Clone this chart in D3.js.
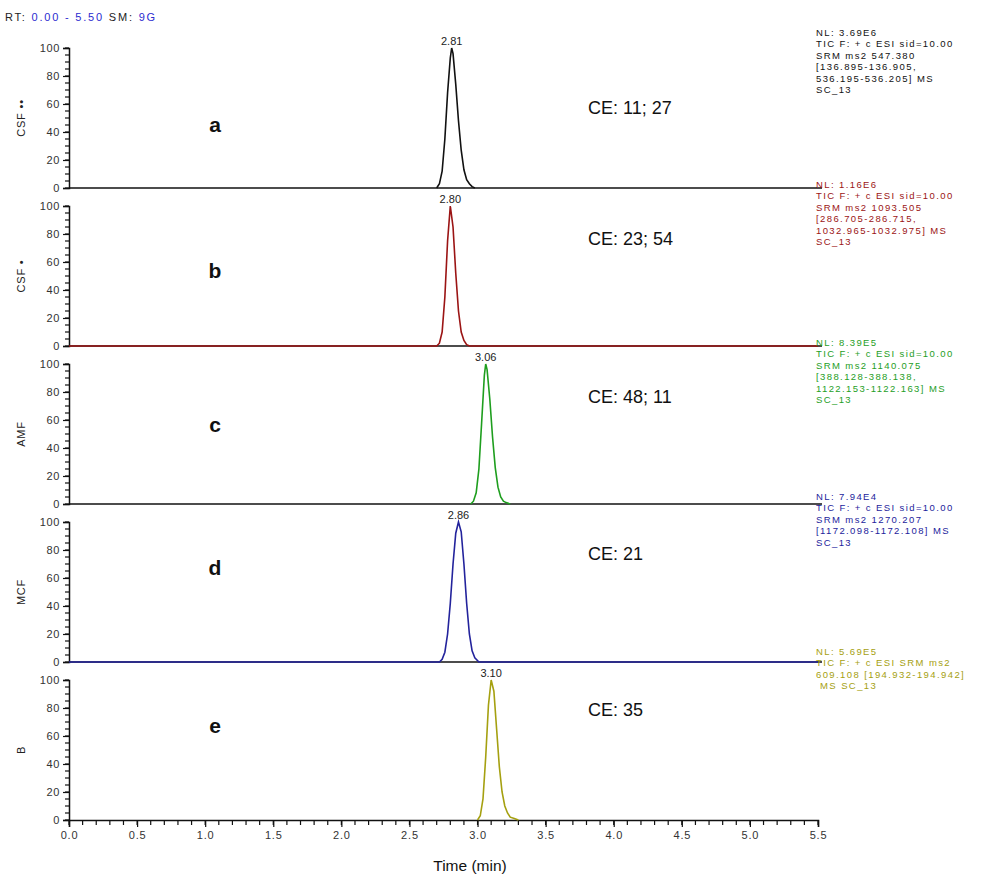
<!DOCTYPE html>
<html>
<head>
<meta charset="utf-8">
<script src="https://cdn.jsdelivr.net/npm/d3@7"></script>
<style>
  body { margin: 0; background: #fff; }
  svg { display: block; font-family: "Liberation Sans", Arial, sans-serif; }
</style>
</head>
<body>
<svg id="chart" width="983" height="879"></svg>
<script>
// ---------- data ----------
const panelIds = ["a", "b", "c", "d", "e"];
const yLabels = ["CSF \u2022\u2022", "CSF \u2022", "AMF", "MCF", "B"];
const ceLabels = ["CE: 11; 27", "CE: 23; 54", "CE: 48; 11", "CE: 21", "CE: 35"];
const peakRT = [2.81, 2.80, 3.06, 2.86, 3.10];
const peakLabels = ["2.81", "2.80", "3.06", "2.86", "3.10"];
const traceColors = ["#111111", "#9b1414", "#1e9e1e", "#23239c", "#a5a010"];

const aTime = [2.70, 2.72, 2.74, 2.76, 2.78, 2.80, 2.81, 2.82, 2.84, 2.86, 2.88, 2.90, 2.92, 2.94, 2.96, 2.98];
const aInt  = [0, 3, 12, 35, 68, 93, 100, 96, 74, 48, 27, 13, 6, 3, 1, 0];

const bTime = [0, 2.70, 2.72, 2.74, 2.76, 2.78, 2.80, 2.82, 2.84, 2.86, 2.88, 2.90, 2.92, 2.94, 5.5];
const bInt  = [0, 0, 2, 10, 35, 75, 100, 85, 52, 25, 10, 4, 1, 0, 0];

const cTime = [2.95, 2.97, 2.99, 3.01, 3.03, 3.05, 3.06, 3.07, 3.09, 3.11, 3.13, 3.15, 3.17, 3.19, 3.21, 3.24];
const cInt  = [0, 2, 8, 25, 58, 92, 100, 96, 75, 48, 26, 12, 5, 2, 1, 0];

const dTime = [0, 2.72, 2.74, 2.76, 2.78, 2.80, 2.82, 2.84, 2.86, 2.88, 2.90, 2.92, 2.94, 2.96, 2.98, 3.01, 5.5];
const dInt  = [0, 0, 2, 7, 20, 42, 70, 92, 100, 93, 70, 42, 20, 8, 3, 0, 0];

const eTime = [3.00, 3.02, 3.04, 3.06, 3.08, 3.10, 3.12, 3.14, 3.16, 3.18, 3.20, 3.22, 3.24, 3.27, 3.30];
const eInt  = [0, 3, 15, 45, 82, 100, 92, 65, 38, 20, 10, 5, 2, 1, 0];

const times = [aTime, bTime, cTime, dTime, eTime];
const ints = [aInt, bInt, cInt, dInt, eInt];

const infoA = ["NL: 3.69E6", "TIC F: + c ESI sid=10.00", "SRM ms2 547.380", "[136.895-136.905,", "536.195-536.205]  MS", "SC_13"];
const infoB = ["NL: 1.16E6", "TIC F: + c ESI sid=10.00", "SRM ms2 1093.505", "[286.705-286.715,", "1032.965-1032.975]  MS", "SC_13"];
const infoC = ["NL: 8.39E5", "TIC F: + c ESI sid=10.00", "SRM ms2 1140.075", "[388.128-388.138,", "1122.153-1122.163]  MS", "SC_13"];
const infoD = ["NL: 7.94E4", "TIC F: + c ESI sid=10.00", "SRM ms2 1270.207", "[1172.098-1172.108]  MS", "SC_13"];
const infoE = ["NL: 5.69E5", "TIC F: + c ESI SRM ms2", "609.108 [194.932-194.942]", " MS SC_13"];
const infos = [infoA, infoB, infoC, infoD, infoE];

const yTicks = [0, 20, 40, 60, 80, 100];
const xTicks = [0, 0.5, 1.0, 1.5, 2.0, 2.5, 3.0, 3.5, 4.0, 4.5, 5.0, 5.5];
const xDomain = [0, 5.5];
const yDomain = [0, 100];

// ---------- layout ----------
const svg = d3.select("#chart");
const xLeft = 69, xRight = 818;
const panelZero = [188, 346, 504, 662, 820];
const panelH = 140;

const x = d3.scaleLinear().domain(xDomain).range([xLeft, xRight]);

// header
const hdr = svg.append("text").attr("x", 5).attr("y", 21).attr("font-size", 11).attr("letter-spacing", 1.8);
hdr.append("tspan").attr("fill", "#222").text("RT: ");
hdr.append("tspan").attr("fill", "#2b2bd0").text("0.00 - 5.50");
hdr.append("tspan").attr("fill", "#222").text("   SM: ");
hdr.append("tspan").attr("fill", "#2b2bd0").text("9G");

panelIds.forEach((id, i) => {
  const y0 = panelZero[i];
  const y = d3.scaleLinear().domain(yDomain).range([y0, y0 - panelH]);
  const g = svg.append("g");

  // minor y ticks
  const yMinor = d3.range(0, 101, 5);
  g.selectAll(".ym").data(yMinor).join("line")
    .attr("x1", xLeft - 4).attr("x2", xLeft)
    .attr("y1", d => y(d)).attr("y2", d => y(d))
    .attr("stroke", "#111").attr("stroke-width", 1.2);
  // major y axis
  const yAxis = d3.axisLeft(y).tickValues(yTicks).tickSize(6).tickPadding(3).tickFormat(d3.format("d"));
  const ya = g.append("g").attr("transform", `translate(${xLeft},0)`).call(yAxis);
  ya.attr("font-size", 11);
  ya.select(".domain").attr("stroke", "#111").attr("stroke-width", 1.5);
  ya.selectAll(".tick line").attr("stroke", "#111").attr("stroke-width", 1.2);
  ya.selectAll(".tick text").attr("fill", "#333").attr("letter-spacing", 0.6)
    .attr("font-family", "'Liberation Sans', Arial, sans-serif");

  // x baseline / axis
  if (i === 4) {
    const xMinor = d3.range(0, 5.5001, 0.1);
    g.selectAll(".xm").data(xMinor).join("line")
      .attr("x1", d => x(d)).attr("x2", d => x(d))
      .attr("y1", y0).attr("y2", y0 + 5)
      .attr("stroke", "#111").attr("stroke-width", 1.2);
    const xAxis = d3.axisBottom(x).tickValues(xTicks).tickSize(7).tickPadding(4).tickFormat(d3.format(".1f"));
    const xa = g.append("g").attr("transform", `translate(0,${y0})`).call(xAxis);
    xa.attr("font-size", 11);
    xa.select(".domain").attr("stroke", "#111").attr("stroke-width", 1.5);
    xa.selectAll(".tick line").attr("stroke", "#111").attr("stroke-width", 1.2);
    xa.selectAll(".tick text").attr("fill", "#333").attr("letter-spacing", 0.8)
      .attr("font-family", "'Liberation Sans', Arial, sans-serif");
  } else {
    g.append("line").attr("x1", xLeft).attr("x2", xRight + 4)
      .attr("y1", y0).attr("y2", y0).attr("stroke", "#111").attr("stroke-width", 1.5);
  }

  // trace
  const pts = times[i].map((t, k) => [t, ints[i][k]]);
  const line = d3.line().x(d => x(d[0])).y(d => y(d[1]));
  g.append("path").datum(pts).attr("d", line)
    .attr("fill", "none").attr("stroke", traceColors[i]).attr("stroke-width", 1.6);

  // peak label
  g.append("text").attr("x", x(peakRT[i])).attr("y", y(100) - 3)
    .attr("text-anchor", "middle").attr("font-size", 11).attr("fill", "#222")
    .text(peakLabels[i]);

  // y label
  g.append("text")
    .attr("transform", `translate(25,${y0 - panelH / 2}) rotate(-90)`)
    .attr("text-anchor", "middle").attr("font-size", 11).attr("fill", "#222").attr("letter-spacing", 0.8)
    .text(yLabels[i]);

  // panel letter
  const letterY = [132, 278, 432, 575, 733][i];
  g.append("text").attr("x", 215).attr("y", letterY)
    .attr("text-anchor", "middle").attr("font-size", 21).attr("font-weight", "bold").attr("fill", "#111")
    .text(id);

  // CE label
  const ceY = [114, 245, 403, 560, 716][i];
  g.append("text").attr("x", 588).attr("y", ceY)
    .attr("font-size", 18).attr("fill", "#111").text(ceLabels[i]);

  // info text
  const infoTop = [36, 188, 346, 500, 655][i];
  const it = g.append("text").attr("font-size", 9.5).attr("letter-spacing", 1.4).attr("fill", traceColors[i]);
  infos[i].forEach((s, k) => {
    it.append("tspan").attr("x", 816).attr("y", infoTop + k * 11.4).text(s);
  });
});

// x-axis title
svg.append("text").attr("x", 470).attr("y", 871).attr("text-anchor", "middle")
  .attr("font-size", 15.5).attr("fill", "#111").text("Time (min)");
</script>
</body>
</html>
